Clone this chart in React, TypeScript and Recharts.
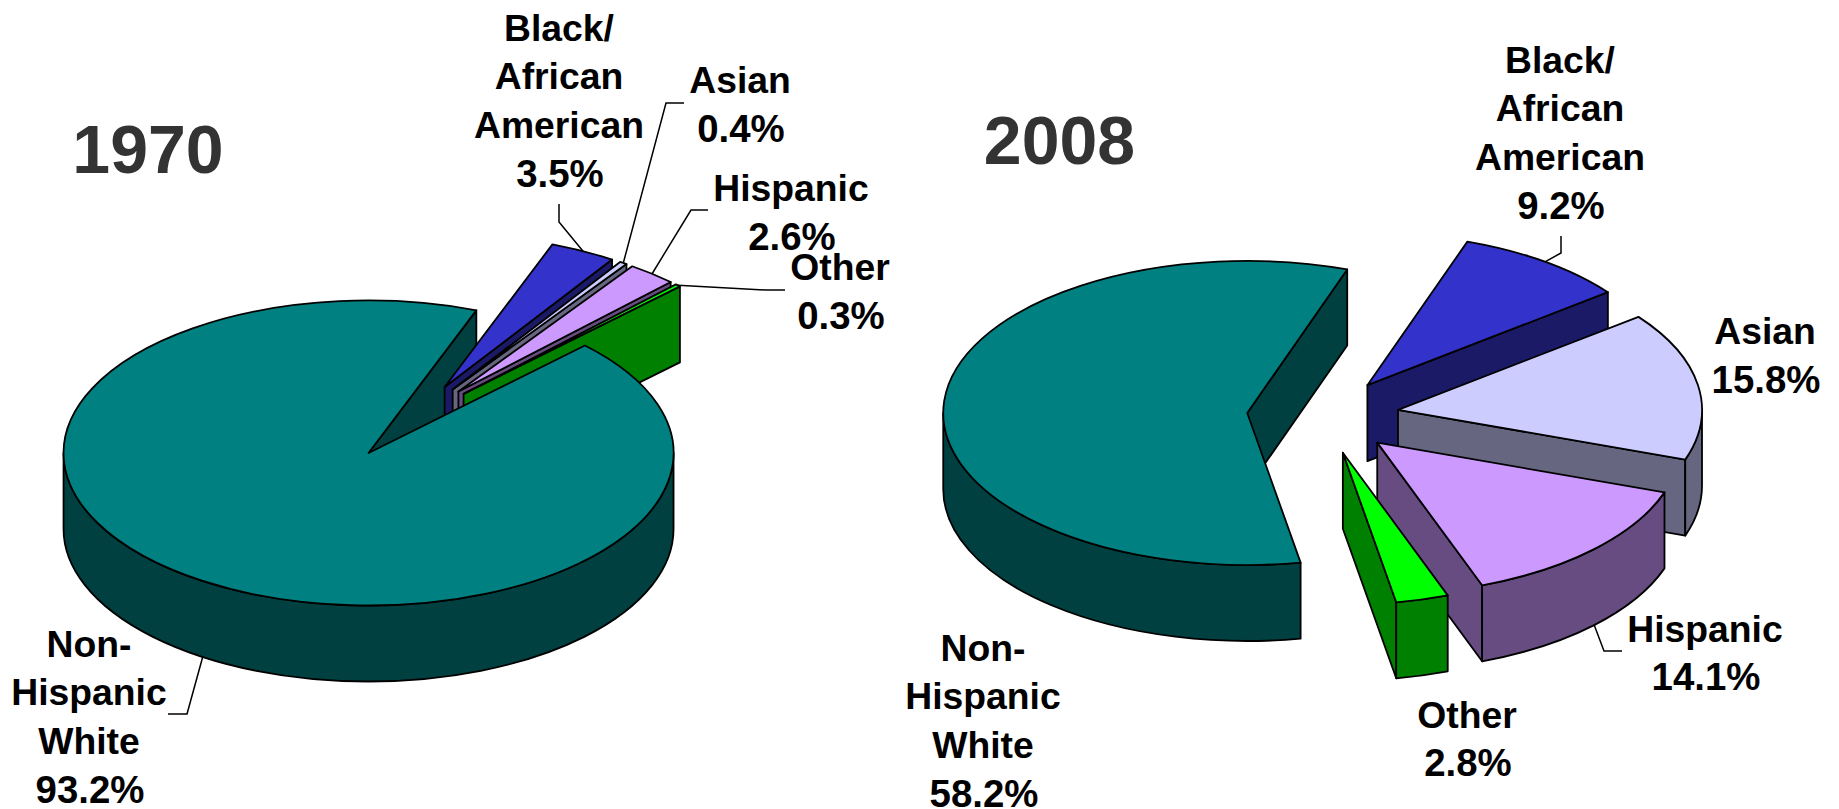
import React from 'react';
import { PieChart, Pie } from 'recharts';

const CATEGORIES = ['Black/African American', 'Asian', 'Hispanic', 'Other', 'Non-Hispanic White'];
const LABEL_LINES = [['Black/', 'African', 'American'], ['Asian'], ['Hispanic'], ['Other'], ['Non-', 'Hispanic', 'White']];
const VALUES_1970 = [3.5, 0.4, 2.6, 0.3, 93.2];
const VALUES_2008 = [9.2, 15.8, 14.1, 2.8, 58.2];
const TOP_COLORS = ['#3333CC', '#CCCCFF', '#CC99FF', '#00FF00', '#008080'];
const SIDE_COLORS: Record<string, string> = {
  '#3333CC': '#1A1A66',
  '#CCCCFF': '#666680',
  '#CC99FF': '#664C80',
  '#00FF00': '#008000',
  '#008080': '#004040',
};
// The largest slice sits behind the others at its walls and in front of them at its top.
const BACK_SLICE = 4;

// Projection of the tilted, exploded pie
const SQUASH = 0.5;
const EXPLODE = 0.25;
const DEPTH = 76;
const FONT = '"Liberation Sans", Arial, sans-serif';
const LABEL_SIZE = 37.3;
const VALUE_SIZE = 38.4;
const LINE_STEP = 48.7;

// [centre x, first baseline, leader start x, leader start y, elbow x, elbow y]
const LAYOUT_1970 = [
  [559, 40.5, 559, 204, 559, 222],
  [740, 93, 684, 103, 666, 103],
  [791, 201, 708, 210, 691, 210],
  [840, 280, 785, 290, 766, 290],
  [89, 656.5, 168, 714, 187, 714],
];
const LAYOUT_2008 = [
  [1560, 72.5, 1561, 236, 1561, 253],
  [1765, 344],
  [1705, 641.5, 1622, 651, 1604, 651],
  [1467, 727.5],
  [983, 660.5],
];

const rows = (values: number[]) =>
  CATEGORIES.map((name, i) => ({ name, value: values[i], fill: TOP_COLORS[i] }));

const rad = (d: number) => (d * Math.PI) / 180;

const makeSlice = (layer: 'back' | 'front') => (props: any) => {
  const { cx, cy, outerRadius, startAngle, endAngle, fill, index } = props;
  const isBack = index === BACK_SLICE;
  const showWalls = layer === 'back' ? isBack : !isBack;
  const showTop = layer === 'front';
  const a0 = 90 - startAngle;
  const a1 = 90 - endAngle;
  const mid = (a0 + a1) / 2;
  const rx = outerRadius;
  const ry = outerRadius * SQUASH;
  const ox = cx + EXPLODE * rx * Math.sin(rad(mid));
  const oy = cy - EXPLODE * ry * Math.cos(rad(mid));
  const pt = (t: number, dy = 0): [number, number] => [
    ox + rx * Math.sin(rad(t)),
    oy - ry * Math.cos(rad(t)) + dy,
  ];
  const side = SIDE_COLORS[fill];
  const common = { stroke: '#000', strokeWidth: 1.8, strokeLinejoin: 'round' as const };
  const wall = (t: number) => {
    const p = pt(t);
    const q = pt(t, DEPTH);
    return `M${ox},${oy}L${p[0]},${p[1]}L${q[0]},${q[1]}L${ox},${oy + DEPTH}Z`;
  };
  const w0 = Math.max(a0, 90);
  const w1 = Math.min(a1, 270);
  let outer = '';
  if (w1 > w0) {
    const p = pt(w0);
    const p2 = pt(w1);
    const q = pt(w1, DEPTH);
    const q2 = pt(w0, DEPTH);
    outer = `M${p[0]},${p[1]}A${rx},${ry} 0 0 1 ${p2[0]},${p2[1]}L${q[0]},${q[1]}A${rx},${ry} 0 0 0 ${q2[0]},${q2[1]}Z`;
  }
  const s = pt(a0);
  const e = pt(a1);
  const top = `M${ox},${oy}L${s[0]},${s[1]}A${rx},${ry} 0 ${a1 - a0 > 180 ? 1 : 0} 1 ${e[0]},${e[1]}Z`;
  return (
    <g>
      {showWalls && Math.sin(rad(a0)) < 0 && <path d={wall(a0)} fill={side} {...common} />}
      {showWalls && Math.sin(rad(a1)) > 0 && <path d={wall(a1)} fill={side} {...common} />}
      {showWalls && outer && <path d={outer} fill={side} {...common} />}
      {showTop && <path d={top} fill={fill} {...common} />}
    </g>
  );
};

const makeLabel = (layout: number[][]) => (props: any) => {
  const { cx, cy, outerRadius, midAngle, index, value } = props;
  const [x, y, lx, ly, ex, ey] = layout[index];
  const a = 90 - midAngle;
  const rx = outerRadius;
  const ry = outerRadius * SQUASH;
  const k = 1 + EXPLODE;
  const front = Math.cos(rad(a)) < 0;
  const tipX = cx + k * rx * Math.sin(rad(a));
  const tipY = cy - k * ry * Math.cos(rad(a)) + (front ? DEPTH : 0);
  const names = LABEL_LINES[index];
  return (
    <g key={index}>
      {lx !== undefined && (
        <polyline
          points={`${lx},${ly} ${ex},${ey} ${tipX},${tipY}`}
          fill="none"
          stroke="#000"
          strokeWidth={1.5}
        />
      )}
      <text x={x} y={y} textAnchor="middle" fontFamily={FONT} fontWeight="bold" fontSize={LABEL_SIZE} fill="#000">
        {names.map((l, i) => (
          <tspan key={i} x={x} y={y + i * LINE_STEP}>
            {l}
          </tspan>
        ))}
        <tspan x={x + 1} y={y + names.length * LINE_STEP} fontSize={VALUE_SIZE}>
          {`${Number(value).toFixed(1)}%`}
        </tspan>
      </text>
    </g>
  );
};

const PIE_1970 = { cx: 410, cy: 421, outerRadius: 305, startAngle: 69.3, endAngle: -290.7 };
const PIE_2008 = { cx: 1323, cy: 416, outerRadius: 304, startAngle: 70.8, endAngle: -289.2 };

export default function App() {
  return (
    <div style={{ position: 'absolute', left: 0, top: 0, width: 1839, height: 809, background: '#fff' }}>
      <PieChart width={1839} height={809} margin={{ top: 0, right: 0, bottom: 0, left: 0 }}>
        <Pie
          data={rows(VALUES_1970)}
          dataKey="value"
          nameKey="name"
          {...PIE_1970}
          shape={makeSlice('back')}
          label={false}
          labelLine={false}
          isAnimationActive={false}
        />
        <Pie
          data={rows(VALUES_1970)}
          dataKey="value"
          nameKey="name"
          {...PIE_1970}
          shape={makeSlice('front')}
          label={makeLabel(LAYOUT_1970)}
          labelLine={false}
          isAnimationActive={false}
        />
        <Pie
          data={rows(VALUES_2008)}
          dataKey="value"
          nameKey="name"
          {...PIE_2008}
          shape={makeSlice('back')}
          label={false}
          labelLine={false}
          isAnimationActive={false}
        />
        <Pie
          data={rows(VALUES_2008)}
          dataKey="value"
          nameKey="name"
          {...PIE_2008}
          shape={makeSlice('front')}
          label={makeLabel(LAYOUT_2008)}
          labelLine={false}
          isAnimationActive={false}
        />
        <text x={148} y={173} textAnchor="middle" fontFamily={FONT} fontWeight="bold" fontSize={68} fill="#333333">
          1970
        </text>
        <text x={1059.5} y={164} textAnchor="middle" fontFamily={FONT} fontWeight="bold" fontSize={68} fill="#333333">
          2008
        </text>
      </PieChart>
    </div>
  );
}
